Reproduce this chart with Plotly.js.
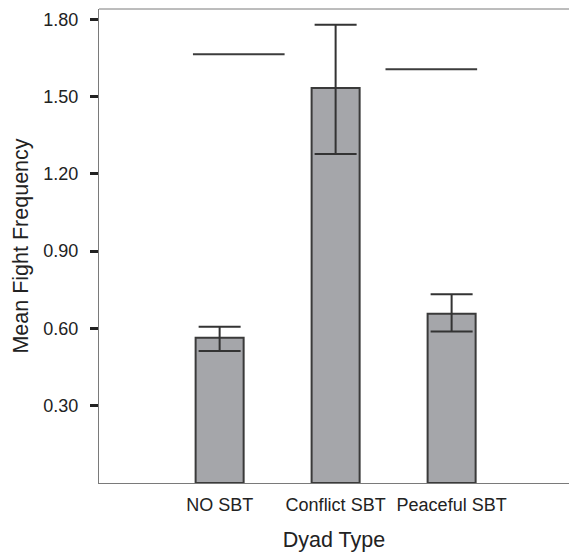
<!DOCTYPE html>
<html>
<head>
<meta charset="utf-8">
<script src="https://cdn.plot.ly/plotly-3.0.1.min.js"></script>
<style>html,body{margin:0;padding:0;background:#fff;overflow:hidden;}#chart{width:569px;height:552px;}</style>
</head>
<body>
<div id="chart"></div>
<script>
// Data
const categories = ["NO SBT", "Conflict SBT", "Peaceful SBT"];
const meanFight = [0.564, 1.533, 0.657];
const errPlus = [0.043, 0.246, 0.076];
const errMinus = [0.052, 0.256, 0.069];
// Significance bracket lines (category-unit x extents, value y)
const sigX0 = [-0.23, 1.43];
const sigX1 = [0.56, 2.22];
const sigY = [1.664, 1.606];
const yTicks = [0.30, 0.60, 0.90, 1.20, 1.50, 1.80];

const pos = categories.map((c, i) => i);
const font = "Liberation Sans, Arial, sans-serif";

const traces = [{
  type: "bar",
  x: pos,
  y: meanFight,
  width: 0.414,
  marker: {color: "#a5a6aa", line: {color: "#3a3a3a", width: 2}},
  error_y: {type: "data", symmetric: false, array: errPlus, arrayminus: errMinus,
            color: "#333333", thickness: 2, width: 21},
  hoverinfo: "skip",
  showlegend: false
}];
sigY.forEach((y, i) => {
  traces.push({
    type: "scatter", mode: "lines",
    x: [sigX0[i], sigX1[i]], y: [y, y],
    line: {color: "#3c3c3c", width: 2},
    hoverinfo: "skip", showlegend: false
  });
});

const layout = {
  width: 569, height: 552,
  margin: {l: 99, r: 0, t: 9, b: 69, pad: 0},
  paper_bgcolor: "#fff", plot_bgcolor: "#fff",
  font: {family: font, color: "#222"},
  shapes: [{type: "line", xref: "paper", yref: "paper", x0: 0, x1: 1.1, y0: 1, y1: 1,
            line: {color: "#7a7a7a", width: 1}}],
  xaxis: {
    type: "linear",
    range: [-1.04, 3.012],
    tickvals: pos, ticktext: categories,
    showgrid: false, zeroline: false,
    showline: true, linecolor: "#7a7a7a", linewidth: 1, mirror: false,
    ticks: "", ticklabelstandoff: 5,
    tickfont: {size: 18, family: font, color: "#222"},
    title: {text: "Dyad Type", font: {size: 21.5, family: font, color: "#222"}, standoff: 20}
  },
  yaxis: {
    range: [0, 1.84],
    tickvals: yTicks, ticktext: yTicks.map(v => v.toFixed(2)),
    showgrid: false, zeroline: false,
    showline: true, linecolor: "#7a7a7a", linewidth: 1, mirror: false,
    ticks: "outside", ticklen: 8, tickwidth: 3, tickcolor: "#222",
    ticklabelstandoff: 8,
    tickfont: {size: 18, family: font, color: "#222"},
    title: {text: "Mean Fight Frequency", font: {size: 21.5, family: font, color: "#222"}, standoff: 8}
  }
};

Plotly.newPlot("chart", traces, layout, {staticPlot: true, displayModeBar: false});
</script>
</body>
</html>
